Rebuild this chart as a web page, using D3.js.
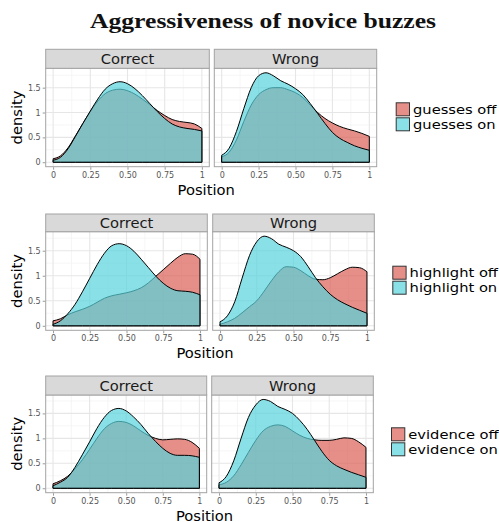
<!DOCTYPE html>
<html><head><meta charset="utf-8">
<script src="https://cdn.jsdelivr.net/npm/d3@7"></script>
<style>html,body{margin:0;padding:0;background:#fff;} svg{display:block;}</style>
</head><body>
<svg id="chart" width="499" height="522"></svg>
<script>
// ---------------- data ----------------
const positions = [0,0.05,0.1,0.15,0.2,0.25,0.3,0.35,0.4,0.45,0.5,0.55,0.6,0.65,0.7,0.75,0.8,0.85,0.9,0.95,1];
const features = ["guesses","highlight","evidence"];
const outcomes = ["Correct","Wrong"];
const states = ["off","on"];
const xTicks = [0,0.25,0.5,0.75,1];
const xTickLabels = ["0","0.25","0.50","0.75","1"];
const yTicks = [0,0.5,1,1.5];
const yTickLabels = ["0","0.5","1","1.5"];

const guessesCorrectOff = [0.07,0.13,0.29,0.53,0.78,1.02,1.23,1.38,1.45,1.47,1.44,1.37,1.27,1.16,1.04,0.94,0.86,0.82,0.80,0.77,0.68];
const guessesCorrectOn  = [0.04,0.10,0.27,0.52,0.78,1.03,1.27,1.47,1.58,1.62,1.58,1.48,1.34,1.18,1.02,0.88,0.77,0.71,0.68,0.66,0.63];
const guessesWrongOff   = [0.11,0.20,0.45,0.82,1.15,1.36,1.46,1.50,1.50,1.46,1.40,1.30,1.15,1.00,0.88,0.79,0.72,0.67,0.63,0.58,0.52];
const guessesWrongOn    = [0.14,0.28,0.62,1.08,1.50,1.74,1.80,1.74,1.64,1.57,1.48,1.36,1.18,0.98,0.78,0.60,0.48,0.40,0.33,0.28,0.24];

const highlightCorrectOff = [0.10,0.14,0.22,0.28,0.33,0.39,0.47,0.55,0.60,0.63,0.66,0.70,0.76,0.86,0.99,1.12,1.25,1.37,1.44,1.43,1.33];
const highlightCorrectOn  = [0.03,0.10,0.24,0.43,0.68,0.95,1.22,1.45,1.60,1.64,1.60,1.49,1.33,1.16,0.99,0.85,0.75,0.70,0.69,0.67,0.62];
const highlightWrongOff   = [0.03,0.08,0.15,0.26,0.38,0.50,0.69,0.90,1.08,1.18,1.17,1.10,1.00,0.93,0.92,0.96,1.04,1.12,1.17,1.16,1.08];
const highlightWrongOn    = [0.08,0.20,0.48,0.95,1.40,1.68,1.79,1.74,1.63,1.57,1.50,1.38,1.18,0.96,0.78,0.63,0.52,0.44,0.37,0.31,0.25];

const evidenceCorrectOff = [0.09,0.15,0.24,0.39,0.57,0.78,1.00,1.19,1.30,1.34,1.32,1.25,1.15,1.06,1.00,0.97,0.98,0.99,0.98,0.92,0.80];
const evidenceCorrectOn  = [0.05,0.12,0.22,0.42,0.67,0.93,1.20,1.42,1.56,1.60,1.55,1.43,1.28,1.10,0.94,0.80,0.70,0.66,0.66,0.65,0.62];
const evidenceWrongOff   = [0.07,0.12,0.25,0.47,0.72,0.96,1.15,1.24,1.27,1.24,1.15,1.06,1.00,0.97,0.96,0.96,0.98,1.01,1.00,0.93,0.82];
const evidenceWrongOn    = [0.11,0.24,0.55,1.00,1.42,1.67,1.78,1.74,1.64,1.58,1.50,1.36,1.18,0.96,0.74,0.56,0.45,0.38,0.32,0.27,0.22];

const series = {
  guesses:   {Correct:{off:guessesCorrectOff,on:guessesCorrectOn},     Wrong:{off:guessesWrongOff,on:guessesWrongOn}},
  highlight: {Correct:{off:highlightCorrectOff,on:highlightCorrectOn}, Wrong:{off:highlightWrongOff,on:highlightWrongOn}},
  evidence:  {Correct:{off:evidenceCorrectOff,on:evidenceCorrectOn},   Wrong:{off:evidenceWrongOff,on:evidenceWrongOn}}
};

// ---------------- layout / style ----------------
const colors = {off:"#DB5F57", on:"#57D3DB"};
const fillAlpha = 0.7;
const rows = [
  {stripTop:49.3, panelTop:68.3, panelBottom:166.7, panels:[[45.7,209.3],[214.3,376.7]], keyX:395.7, keyTop:101.8, posBase:195},
  {stripTop:214,  panelTop:231.7, panelBottom:330.3, panels:[[45.7,207.3],[212.7,374.3]], keyX:392.3, keyTop:265.2, posBase:358.3},
  {stripTop:376,  panelTop:395,  panelBottom:492.7, panels:[[45.7,206.7],[211.7,373.3]], keyX:391,   keyTop:426.8, posBase:520.5}
];
const borderCol = "#a3a3a3";
const sans = "'DejaVu Sans', sans-serif";

const svg = d3.select("#chart");

// title
svg.append("text")
  .attr("x", 263).attr("y", 28)
  .attr("text-anchor","middle")
  .attr("font-family","'Liberation Serif', serif")
  .attr("font-weight","bold")
  .attr("font-size", 21)
  .attr("fill","#111")
  .attr("textLength", 346)
  .attr("lengthAdjust","spacingAndGlyphs")
  .text("Aggressiveness of novice buzzes");

features.forEach((feat, ri) => {
  const L = rows[ri];
  const g = svg.append("g");
  let ymax = 0;
  outcomes.forEach(o => states.forEach(s => { ymax = Math.max(ymax, d3.max(series[feat][o][s])); }));
  const pad = ymax * 0.05;
  const y = d3.scaleLinear().domain([-pad, ymax + pad]).range([L.panelBottom, L.panelTop]);

  outcomes.forEach((o, ci) => {
    const [x0, x1] = L.panels[ci];
    const x = d3.scaleLinear().domain([-0.05, 1.05]).range([x0, x1]);
    const pg = g.append("g");

    pg.append("rect").attr("x",x0).attr("y",L.panelTop).attr("width",x1-x0).attr("height",L.panelBottom-L.panelTop).attr("fill","#fff");

    // minor grid
    const xMinor = [0.125,0.375,0.625,0.875];
    const yMinor = [0.25,0.75,1.25,1.75].filter(v => v < ymax + pad);
    pg.selectAll(null).data(xMinor).join("line")
      .attr("x1",d=>x(d)).attr("x2",d=>x(d)).attr("y1",L.panelTop).attr("y2",L.panelBottom)
      .attr("stroke","#f2f2f2").attr("stroke-width",0.7);
    pg.selectAll(null).data(yMinor).join("line")
      .attr("y1",d=>y(d)).attr("y2",d=>y(d)).attr("x1",x0).attr("x2",x1)
      .attr("stroke","#f2f2f2").attr("stroke-width",0.7);
    // major grid
    pg.selectAll(null).data(xTicks).join("line")
      .attr("x1",d=>x(d)).attr("x2",d=>x(d)).attr("y1",L.panelTop).attr("y2",L.panelBottom)
      .attr("stroke","#e6e6e6").attr("stroke-width",1.1);
    pg.selectAll(null).data(yTicks).join("line")
      .attr("y1",d=>y(d)).attr("y2",d=>y(d)).attr("x1",x0).attr("x2",x1)
      .attr("stroke","#e6e6e6").attr("stroke-width",1.1);

    // densities
    const area = d3.area()
      .x((d,i) => x(positions[i]))
      .y0(y(0))
      .y1(d => y(d))
      .curve(d3.curveMonotoneX);
    states.forEach(s => {
      pg.append("path")
        .datum(series[feat][o][s])
        .attr("d", d => area(d))
        .attr("fill", colors[s]).attr("fill-opacity", fillAlpha)
        .attr("stroke","#000").attr("stroke-width",1)
        .attr("stroke-linejoin","round");
    });

    // panel border
    pg.append("rect").attr("x",x0).attr("y",L.panelTop).attr("width",x1-x0).attr("height",L.panelBottom-L.panelTop)
      .attr("fill","none").attr("stroke",borderCol).attr("stroke-width",1);

    // strip
    pg.append("rect").attr("x",x0).attr("y",L.stripTop).attr("width",x1-x0).attr("height",L.panelTop-L.stripTop)
      .attr("fill","#d9d9d9").attr("stroke",borderCol).attr("stroke-width",1);
    pg.append("text").attr("x",(x0+x1)/2).attr("y",(L.stripTop+L.panelTop)/2).attr("dy","0.36em")
      .attr("text-anchor","middle").attr("font-family",sans).attr("font-size",14.7).attr("fill","#1a1a1a").text(o);

    // x axis
    const xAxis = d3.axisBottom(x).tickValues(xTicks).tickFormat((d,i)=>xTickLabels[i]).tickSizeInner(2.5).tickSizeOuter(0).tickPadding(2.5);
    const xa = pg.append("g").attr("transform",`translate(0,${L.panelBottom+0.5})`).call(xAxis);
    xa.select(".domain").remove();
    xa.selectAll(".tick line").attr("stroke","#9a9a9a");
    xa.selectAll(".tick text").attr("font-family",sans).attr("font-size",8).attr("fill","#555");

    if (ci === 0) {
      const yAxis = d3.axisLeft(y).tickValues(yTicks).tickFormat((d,i)=>yTickLabels[i]).tickSizeInner(2.5).tickSizeOuter(0).tickPadding(2);
      const ya = pg.append("g").attr("transform",`translate(${x0-0.5},0)`).call(yAxis);
      ya.select(".domain").remove();
      ya.selectAll(".tick line").attr("stroke","#9a9a9a");
      ya.selectAll(".tick text").attr("font-family",sans).attr("font-size",8).attr("fill","#555");
    }
  });

  // axis titles
  const cx = (L.panels[0][0] + L.panels[1][1]) / 2 - 5;
  g.append("text").attr("x",cx).attr("y",L.posBase).attr("text-anchor","middle")
    .attr("font-family",sans).attr("font-size",14.7).attr("fill","#000").text("Position");
  const cy = (L.panelTop + L.panelBottom) / 2;
  g.append("text").attr("transform",`translate(21.5,${cy}) rotate(-90)`).attr("text-anchor","middle")
    .attr("font-family",sans).attr("font-size",14.7).attr("fill","#000").text("density");

  // legend
  const keyW = 14.3, keyH = 15;
  states.forEach((s, k) => {
    const ky = L.keyTop + k * keyH;
    g.append("rect").attr("x",L.keyX+0.5).attr("y",ky+1).attr("width",keyW-1).attr("height",keyH-2)
      .attr("fill",colors[s]).attr("fill-opacity",fillAlpha).attr("stroke","#333").attr("stroke-width",1);
    const label = `${feat} ${s}`;
    const t = g.append("text").attr("x",L.keyX+keyW+3).attr("y",ky+keyH/2).attr("dy","0.36em")
      .attr("font-family",sans).attr("font-size",12.8).attr("fill","#000").text(label);
    // keep the reference's text width (as at 14.7px) while fitting the tight key spacing
    const w = t.node().getComputedTextLength() * 14.7 / 12.8;
    t.attr("textLength", w).attr("lengthAdjust","spacingAndGlyphs");
  });
});
</script>
</body></html>
